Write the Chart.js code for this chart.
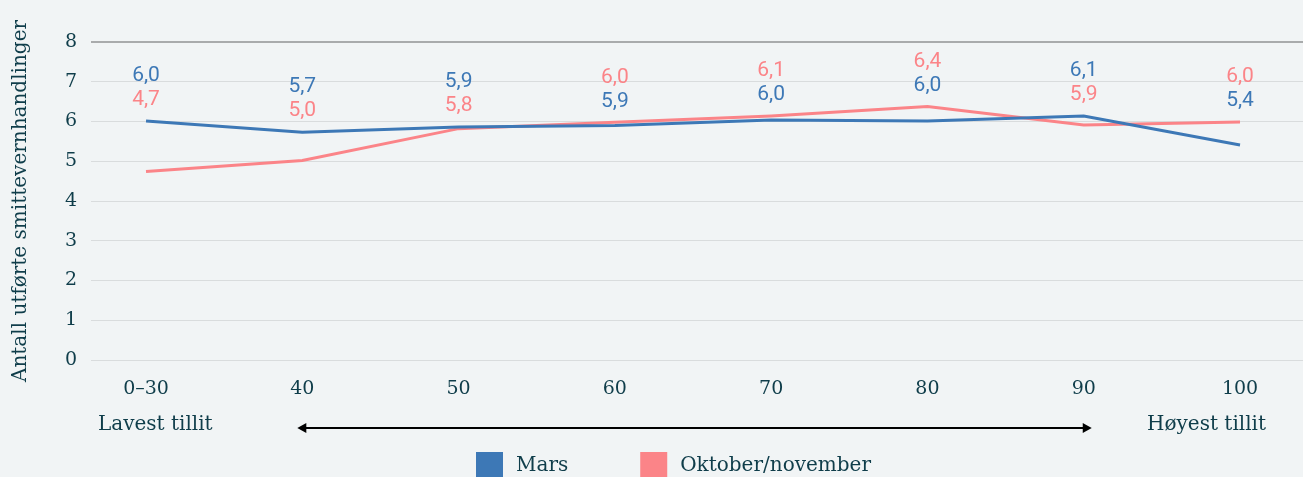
<!DOCTYPE html>
<html>
<head>
<meta charset="utf-8">
<script src="https://cdn.jsdelivr.net/npm/chart.js@4.4.0/dist/chart.umd.min.js"></script>
<style>
  body { margin: 0; background: #f1f4f5; overflow: hidden; }
  #wrap { width: 1303px; height: 477px; position: relative; }
</style>
</head>
<body>
<div id="wrap"><canvas id="trustChart"></canvas></div>
<script>
const categories = ["0\u201330", "40", "50", "60", "70", "80", "90", "100"];
const mars = [6.01, 5.73, 5.86, 5.9, 6.04, 6.01, 6.14, 5.41];
const oktoberNovember = [4.74, 5.02, 5.82, 5.98, 6.14, 6.38, 5.91, 5.99];
const yTicks = [0, 1, 2, 3, 4, 5, 6, 7, 8];

const BLUE = "#3d78b6";
const RED = "#fb8488";
const TEXT = "#0f3d4a";
const SLAB = "'DejaVu Serif', serif";

const fmt = v => (Math.round(v * 10) / 10).toFixed(1).replace(".", ",");

// value labels: higher value on top, lower just under it
const valueLabels = {
    id: "valueLabels",
    afterDatasetsDraw(chart) {
        const ctx = chart.ctx;
        const y = chart.scales.y;
        const sets = chart.data.datasets;
        ctx.save();
        ctx.font = "21px Roboto";
        ctx.textAlign = "center";
        ctx.textBaseline = "middle";
        categories.forEach((c, i) => {
            const items = sets.map(ds => ({ v: ds.data[i].y, color: ds.borderColor }));
            items.sort((a, b) => b.v - a.v);
            const px = chart.getDatasetMeta(0).data[i].x;
            const topY = y.getPixelForValue(items[0].v) - 45;
            items.forEach((it, n) => {
                ctx.fillStyle = it.color;
                ctx.fillText(fmt(it.v), px, topY + n * 24);
            });
        });
        ctx.restore();
    }
};

// trust arrow row and legend under the x axis
const bottomRow = {
    id: "bottomRow",
    afterDraw(chart) {
        const ctx = chart.ctx;
        const x = chart.scales.x;
        const area = chart.chartArea;
        ctx.save();
        ctx.font = "20px " + SLAB;
        ctx.fillStyle = TEXT;
        ctx.textBaseline = "middle";
        ctx.textAlign = "left";
        ctx.fillText("Lavest tillit", area.left + 7, 425);
        ctx.textAlign = "right";
        ctx.fillText("H\u00f8yest tillit", 1266, 425);

        const x1 = x.getPixelForValue(1) - 5;
        const x2 = x.getPixelForValue(6) + 8;
        const ay = 428;
        ctx.strokeStyle = "#000";
        ctx.fillStyle = "#000";
        ctx.lineWidth = 2;
        ctx.beginPath();
        ctx.moveTo(x1 + 6, ay);
        ctx.lineTo(x2 - 6, ay);
        ctx.stroke();
        ctx.beginPath();
        ctx.moveTo(x1, ay); ctx.lineTo(x1 + 9, ay - 5); ctx.lineTo(x1 + 9, ay + 5); ctx.closePath();
        ctx.fill();
        ctx.beginPath();
        ctx.moveTo(x2, ay); ctx.lineTo(x2 - 9, ay - 5); ctx.lineTo(x2 - 9, ay + 5); ctx.closePath();
        ctx.fill();

        // legend
        let lx = 476;
        ctx.textAlign = "left";
        chart.data.datasets.forEach(ds => {
            ctx.fillStyle = ds.borderColor;
            ctx.fillRect(lx, 452, 27, 27);
            lx += 27 + 13;
            ctx.fillStyle = TEXT;
            ctx.fillText(ds.label, lx, 466);
            lx += ctx.measureText(ds.label).width + 72;
        });
        ctx.restore();
    }
};

new Chart(document.getElementById("trustChart"), {
    type: "line",
    data: {
        datasets: [
            {
                label: "Mars",
                data: mars.map((v, i) => ({ x: i, y: v })),
                borderColor: BLUE,
                backgroundColor: BLUE,
                borderWidth: 3,
                pointRadius: 0,
                tension: 0
            },
            {
                label: "Oktober/november",
                data: oktoberNovember.map((v, i) => ({ x: i, y: v })),
                borderColor: RED,
                backgroundColor: RED,
                borderWidth: 3,
                pointRadius: 0,
                tension: 0
            }
        ]
    },
    options: {
        responsive: true,
        maintainAspectRatio: false,
        animation: false,
        layout: { padding: { top: 42, right: 0, left: 0, bottom: 0 } },
        plugins: {
            legend: { display: false },
            tooltip: { enabled: false }
        },
        scales: {
            x: {
                type: "linear",
                min: -0.352,
                max: 7.403,
                afterBuildTicks: s => { s.ticks = categories.map((c, i) => ({ value: i })); },
                afterFit: s => { s.height = 117; },
                grid: { display: false },
                border: { display: false },
                ticks: {
                    padding: 10,
                    color: TEXT,
                    font: { family: SLAB, size: 19 },
                    maxRotation: 0,
                    callback: v => categories[v]
                }
            },
            y: {
                min: 0,
                max: 8,
                afterBuildTicks: s => { s.ticks = yTicks.map(v => ({ value: v })); },
                afterFit: s => { s.width = 91; },
                border: { display: false },
                grid: {
                    drawTicks: false,
                    color: c => c.tick && c.tick.value === 8 ? "#a9abac" : "#d9dcdd",
                    lineWidth: c => c.tick && c.tick.value === 8 ? 2 : 1
                },
                ticks: {
                    padding: 14,
                    color: TEXT,
                    font: { family: SLAB, size: 19 }
                },
                title: {
                    display: true,
                    text: "Antall utf\u00f8rte smittevernhandlinger",
                    color: TEXT,
                    font: { family: SLAB, size: 20 },
                    padding: { top: 9, bottom: 0 }
                }
            }
        }
    },
    plugins: [valueLabels, bottomRow]
});
</script>
</body>
</html>
